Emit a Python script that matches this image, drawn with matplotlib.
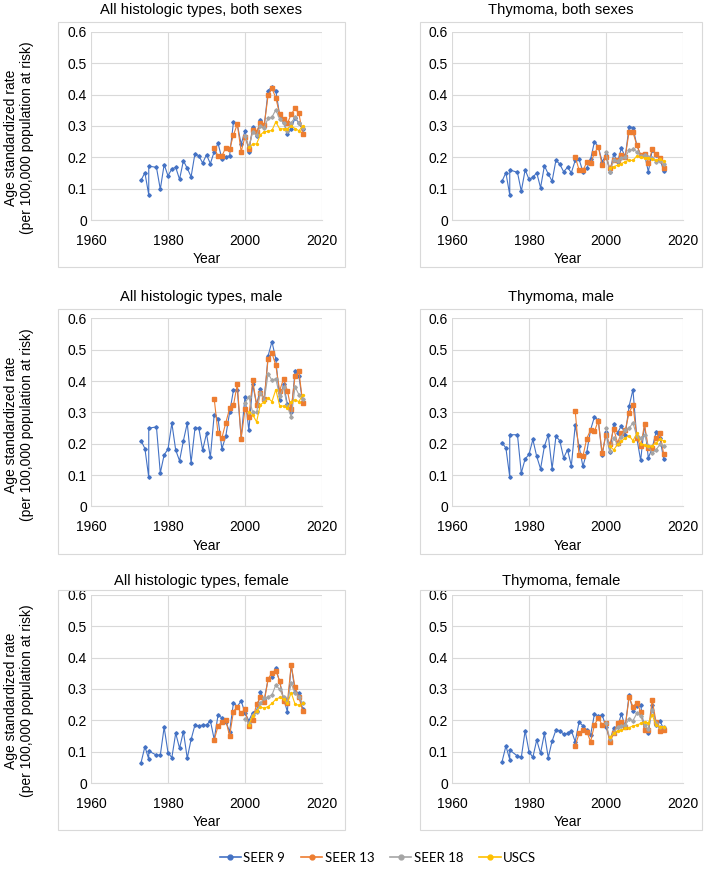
import matplotlib
matplotlib.use("Agg")
import matplotlib.pyplot as plt
from matplotlib.patches import Rectangle
from matplotlib.lines import Line2D

# ---------------- data ----------------
years_seer9 = [1973, 1974, 1975, 1975] + list(range(1977, 2016))
years_seer13 = list(range(1992, 2016))
years_seer18 = list(range(2000, 2016))
years_uscs = list(range(2001, 2016))

series_names = ["SEER 9", "SEER 13", "SEER 18", "USCS"]
panel_titles = ["All histologic types, both sexes", "Thymoma, both sexes",
                "All histologic types, male", "Thymoma, male",
                "All histologic types, female", "Thymoma, female"]

# All histologic types, both sexes
all_both_seer9 = [0.127, 0.151, 0.080, 0.172, 0.168, 0.098, 0.177, 0.141, 0.163, 0.168,
                  0.130, 0.189, 0.165, 0.138, 0.212, 0.205, 0.182, 0.208, 0.180,
                  0.218, 0.245, 0.195, 0.202, 0.205, 0.312, 0.305, 0.242, 0.284, 0.218,
                  0.297, 0.268, 0.320, 0.300, 0.413, 0.426, 0.413, 0.335, 0.314, 0.274,
                  0.290, 0.327, 0.308, 0.289]
all_both_seer13 = [0.231, 0.204, 0.204, 0.231, 0.226, 0.271, 0.306, 0.218, 0.266, 0.228,
                   0.287, 0.282, 0.310, 0.303, 0.398, 0.420, 0.390, 0.337, 0.322, 0.308,
                   0.338, 0.356, 0.340, 0.274]
all_both_seer18 = [0.268, 0.235, 0.280, 0.270, 0.300, 0.295, 0.325, 0.328, 0.352, 0.322,
                   0.310, 0.285, 0.310, 0.328, 0.310, 0.295]
all_both_uscs = [0.232, 0.242, 0.243, 0.272, 0.282, 0.283, 0.286, 0.313, 0.291, 0.291,
                 0.292, 0.300, 0.292, 0.285, 0.300]

# Thymoma, both sexes
thy_both_seer9 = [0.124, 0.151, 0.080, 0.160, 0.152, 0.092, 0.160, 0.130, 0.136, 0.151,
                  0.103, 0.173, 0.147, 0.124, 0.191, 0.178, 0.154, 0.168, 0.151,
                  0.190, 0.194, 0.154, 0.165, 0.194, 0.250, 0.234, 0.186, 0.207, 0.154,
                  0.210, 0.186, 0.229, 0.202, 0.298, 0.295, 0.239, 0.207, 0.210, 0.154,
                  0.223, 0.207, 0.194, 0.157]
thy_both_seer13 = [0.202, 0.160, 0.158, 0.184, 0.183, 0.213, 0.234, 0.175, 0.202, 0.165,
                   0.191, 0.190, 0.207, 0.202, 0.282, 0.280, 0.239, 0.207, 0.210, 0.183,
                   0.225, 0.211, 0.197, 0.165]
thy_both_seer18 = [0.218, 0.154, 0.190, 0.188, 0.199, 0.200, 0.223, 0.226, 0.218, 0.204,
                   0.207, 0.200, 0.197, 0.186, 0.188, 0.180]
thy_both_uscs = [0.167, 0.170, 0.175, 0.180, 0.186, 0.191, 0.190, 0.204, 0.200, 0.198,
                 0.199, 0.194, 0.191, 0.194, 0.188]

# All histologic types, male
all_male_seer9 = [0.210, 0.185, 0.093, 0.250, 0.254, 0.107, 0.165, 0.183, 0.266, 0.180,
                  0.146, 0.210, 0.266, 0.140, 0.249, 0.251, 0.180, 0.233, 0.157,
                  0.293, 0.280, 0.184, 0.224, 0.300, 0.371, 0.373, 0.220, 0.350, 0.243,
                  0.390, 0.326, 0.375, 0.340, 0.481, 0.526, 0.471, 0.339, 0.390, 0.327,
                  0.300, 0.432, 0.416, 0.330]
all_male_seer13 = [0.344, 0.233, 0.219, 0.267, 0.313, 0.323, 0.391, 0.217, 0.310, 0.286,
                   0.403, 0.325, 0.362, 0.344, 0.471, 0.490, 0.450, 0.370, 0.407, 0.370,
                   0.310, 0.416, 0.432, 0.330]
all_male_seer18 = [0.330, 0.350, 0.300, 0.300, 0.362, 0.340, 0.424, 0.403, 0.408, 0.352,
                   0.380, 0.320, 0.286, 0.382, 0.357, 0.344]
all_male_uscs = [0.300, 0.293, 0.270, 0.325, 0.334, 0.346, 0.335, 0.373, 0.322, 0.320,
                 0.315, 0.335, 0.340, 0.335, 0.357]

# Thymoma, male
thy_male_seer9 = [0.203, 0.187, 0.094, 0.229, 0.229, 0.107, 0.152, 0.166, 0.214, 0.160,
                  0.120, 0.192, 0.229, 0.120, 0.224, 0.210, 0.155, 0.181, 0.130,
                  0.259, 0.192, 0.128, 0.173, 0.245, 0.286, 0.275, 0.163, 0.237, 0.173,
                  0.264, 0.235, 0.258, 0.229, 0.320, 0.373, 0.219, 0.147, 0.262, 0.155,
                  0.187, 0.237, 0.219, 0.150]
thy_male_seer13 = [0.306, 0.163, 0.160, 0.217, 0.245, 0.240, 0.274, 0.171, 0.229, 0.198,
                   0.248, 0.203, 0.235, 0.244, 0.299, 0.325, 0.219, 0.192, 0.262, 0.187,
                   0.187, 0.219, 0.235, 0.166]
thy_male_seer18 = [0.250, 0.177, 0.219, 0.198, 0.222, 0.245, 0.250, 0.267, 0.224, 0.219,
                   0.229, 0.192, 0.171, 0.181, 0.198, 0.192]
thy_male_uscs = [0.192, 0.181, 0.198, 0.208, 0.219, 0.226, 0.210, 0.233, 0.201, 0.195,
                 0.192, 0.194, 0.203, 0.214, 0.210]

# All histologic types, female
all_female_seer9 = [0.065, 0.116, 0.076, 0.102, 0.089, 0.089, 0.178, 0.097, 0.081, 0.159,
                    0.111, 0.164, 0.079, 0.139, 0.185, 0.182, 0.185, 0.185, 0.199,
                    0.139, 0.217, 0.208, 0.196, 0.164, 0.256, 0.244, 0.262, 0.224, 0.199,
                    0.225, 0.230, 0.289, 0.267, 0.331, 0.339, 0.366, 0.323, 0.270, 0.228,
                    0.377, 0.292, 0.286, 0.235]
all_female_seer13 = [0.137, 0.182, 0.196, 0.201, 0.150, 0.228, 0.244, 0.222, 0.236, 0.182,
                     0.201, 0.252, 0.273, 0.259, 0.332, 0.352, 0.358, 0.326, 0.262, 0.256,
                     0.377, 0.305, 0.273, 0.230]
all_female_seer18 = [0.205, 0.190, 0.217, 0.228, 0.254, 0.270, 0.275, 0.281, 0.313, 0.299,
                     0.275, 0.259, 0.318, 0.286, 0.275, 0.254]
all_female_uscs = [0.185, 0.214, 0.230, 0.242, 0.239, 0.244, 0.254, 0.267, 0.273, 0.267,
                   0.254, 0.288, 0.252, 0.248, 0.254]

# Thymoma, female
thy_female_seer9 = [0.068, 0.118, 0.075, 0.105, 0.086, 0.082, 0.167, 0.100, 0.082, 0.137,
                    0.095, 0.158, 0.081, 0.134, 0.169, 0.167, 0.156, 0.158, 0.167,
                    0.132, 0.194, 0.183, 0.169, 0.153, 0.220, 0.214, 0.217, 0.180, 0.137,
                    0.174, 0.180, 0.220, 0.180, 0.281, 0.231, 0.246, 0.249, 0.169, 0.158,
                    0.249, 0.185, 0.199, 0.171]
thy_female_seer13 = [0.118, 0.158, 0.169, 0.164, 0.132, 0.185, 0.209, 0.185, 0.190, 0.130,
                     0.158, 0.192, 0.195, 0.180, 0.273, 0.244, 0.256, 0.228, 0.169, 0.169,
                     0.265, 0.195, 0.167, 0.169]
thy_female_seer18 = [0.190, 0.142, 0.160, 0.180, 0.182, 0.185, 0.203, 0.199, 0.222, 0.214,
                     0.185, 0.171, 0.233, 0.190, 0.180, 0.178]
thy_female_uscs = [0.146, 0.158, 0.167, 0.169, 0.174, 0.177, 0.182, 0.185, 0.190, 0.195,
                   0.192, 0.217, 0.185, 0.180, 0.180]

x_ticks = [1960, 1980, 2000, 2020]
y_ticks = [0, 0.1, 0.2, 0.3, 0.4, 0.5, 0.6]
y_tick_labels = ["0", "0.1", "0.2", "0.3", "0.4", "0.5", "0.6"]

# ---------------- style ----------------
plt.rcParams['font.family'] = ['Liberation Sans', 'DejaVu Sans']
colors = ["#4472C4", "#ED7D31", "#A5A5A5", "#FFC000"]
markers = ["D", "s", "D", "o"]
msizes = [1.8, 2.6, 1.8, 1.4]
grid_c = "#D9D9D9"

W, H = 704, 872
fig = plt.figure(figsize=(W / 100, H / 100), dpi=100)

def fx(px):
    return px / W

def fy(py):
    return 1 - py / H

panels = [
    (all_both_seer9, all_both_seer13, all_both_seer18, all_both_uscs),
    (thy_both_seer9, thy_both_seer13, thy_both_seer18, thy_both_uscs),
    (all_male_seer9, all_male_seer13, all_male_seer18, all_male_uscs),
    (thy_male_seer9, thy_male_seer13, thy_male_seer18, thy_male_uscs),
    (all_female_seer9, all_female_seer13, all_female_seer18, all_female_uscs),
    (thy_female_seer9, thy_female_seer13, thy_female_seer18, thy_female_uscs),
]
years_list = [years_seer9, years_seer13, years_seer18, years_uscs]

col_axes_x = [(91, 322), (452, 683)]
col_box_x = [(58, 345), (420, 702)]
row_zero = [220, 506.5, 783]   # pixel y of value 0
row_top = [32, 318.5, 595]     # pixel y of value 0.6
row_title = [10, 297, 581]
row_box_top = [22, 309, 590]

for i, data in enumerate(panels):
    r, c = divmod(i, 2)
    x0, x1 = col_axes_x[c]
    y_top, y_bot = row_top[r], row_zero[r]
    ax = fig.add_axes([fx(x0), fy(y_bot), fx(x1 - x0), (y_bot - y_top) / H])
    for k in range(4):
        ax.plot(years_list[k], data[k], color=colors[k], lw=0.8, marker=markers[k],
                ms=msizes[k], mec=colors[k], mfc=colors[k], zorder=3 + k)
    ax.set_xlim(1960, 2020)
    ax.set_ylim(0, 0.6)
    ax.set_xticks(x_ticks)
    ax.set_xticklabels([str(t) for t in x_ticks])
    ax.set_yticks(y_ticks)
    ax.set_yticklabels(y_tick_labels)
    ax.grid(True, color=grid_c, lw=0.8)
    ax.set_axisbelow(True)
    for s in ["top", "right", "left"]:
        ax.spines[s].set_visible(False)
    ax.spines["bottom"].set_color(grid_c)
    ax.spines["bottom"].set_linewidth(0.8)
    ax.tick_params(axis="both", length=0, labelsize=10, colors="#000000")
    ax.tick_params(axis="x", pad=10)
    ax.tick_params(axis="y", pad=3)
    ax.set_xlabel("Year", fontsize=10, labelpad=3)
    # chart box
    bx0, bx1 = col_box_x[c]
    by0 = row_box_top[r]
    by1 = y_bot + 47
    fig.patches.append(Rectangle((fx(bx0), fy(by1)), fx(bx1 - bx0), (by1 - by0) / H,
                                 transform=fig.transFigure, fill=False,
                                 edgecolor=grid_c, lw=0.8))
    fig.text(fx((bx0 + bx1) / 2), fy(row_title[r]), panel_titles[i], ha="center",
             va="center", fontsize=10.6)
    if c == 0:
        fig.text(fx(19), fy((y_top + y_bot) / 2 + 12),
                 "Age standardized rate\n(per 100,000 population at risk)",
                 rotation=90, ha="center", va="center", fontsize=10,
                 multialignment="center", linespacing=1.15)

handles = [Line2D([0], [0], color=colors[k], lw=1.2, marker="o", ms=3.5)
           for k in range(4)]
fig.legend(handles, series_names, loc="center", bbox_to_anchor=(fx(378), fy(858)),
           ncol=4, frameon=False, prop={"family": "Lato", "size": 9.5},
           handlelength=1.6, handletextpad=0.2, columnspacing=1.2)

fig.savefig("out.png", dpi=100)
